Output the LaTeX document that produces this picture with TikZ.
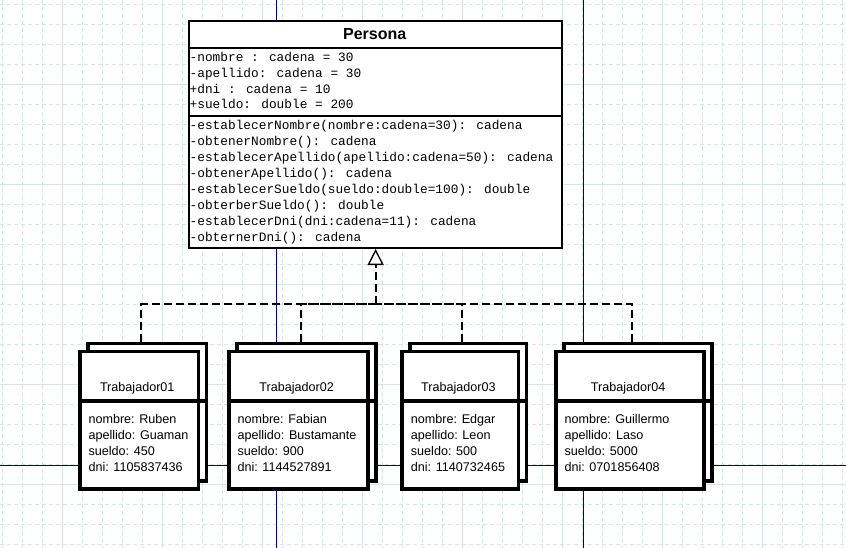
\documentclass[tikz,border=0pt]{standalone}
\usepackage{fontspec}
\setmainfont{Liberation Sans}
\newfontfamily\monofnt{Liberation Mono}
\usetikzlibrary{arrows.meta}
\definecolor{gridc}{RGB}{214,230,226}
\definecolor{navyline}{RGB}{0,0,150}
\tikzset{
  gridminor/.style={gridc, line width=0.8pt, dash pattern=on 4pt off 3pt},
  gridmajor/.style={gridc, line width=1pt},
  guide/.style={navyline, line width=0.9pt},
  classbox/.style={draw, fill=white, line width=2pt, inner sep=0pt, anchor=north west},
  objbox/.style={draw, fill=white, line width=3.5pt, inner sep=0pt, anchor=north west, minimum height=137.5pt},
  sepline/.style={line width=3.5pt},
  classsep/.style={line width=2pt},
  monotext/.style={font=\monofnt\fontsize{12.8}{16}\selectfont, anchor=base west, inner sep=0pt},
  classtitle/.style={font=\bfseries\fontsize{16}{19}\selectfont, anchor=base, inner sep=0pt},
  objtext/.style={font=\fontsize{12.6}{15}\selectfont, anchor=base west, inner sep=0pt},
  objtitle/.style={font=\fontsize{12.6}{15}\selectfont, anchor=base, inner sep=0pt},
  genline/.style={line width=2.2pt, dash pattern=on 8pt off 4pt},
  gen/.style={genline, -{Triangle[open, length=16pt, width=16pt, line width=1.3pt]}}
}
\begin{document}
\begin{tikzpicture}[x=1pt, y=-1pt]
\useasboundingbox[fill=white] (0,0) rectangle (846,548);
% grid
\foreach \x in {2,22,...,842} \draw[gridminor] (\x,0) -- (\x,548);
\foreach \y in {4.5,24.5,...,544.5} \draw[gridminor] (0,\y) -- (846,\y);
\foreach \x in {62,162,...,762} \draw[gridmajor] (\x,0) -- (\x,548);
\foreach \y in {84.5,184.5,...,484.5} \draw[gridmajor] (0,\y) -- (846,\y);
% guide lines
\draw[guide] (276,0) -- (276,548);
\draw[guide] (583,0) -- (583,548);
\draw[guide] (0,465) -- (846,465);

% Persona class
\node[classbox, minimum width=372.7pt, minimum height=227pt] (persona) at (188.3,20) {};
\draw[classsep] (188.3,47.7) -- (561,47.7);
\draw[classsep] (188.3,115.7) -- (561,115.7);
\node[classtitle] (ptitle) at (374.65,40) {Persona};
\node[monotext] (a1) at (189.5,61.7) {-nombre : cadena = 30};
\node[monotext] (a2) at (189.5,77.4) {-apellido: cadena = 30};
\node[monotext] (a3) at (189.5,93.1) {+dni : cadena = 10};
\node[monotext] (a4) at (189.5,108.8) {+sueldo: double = 200};
\node[monotext] (m1) at (189.5,129.3) {-establecerNombre(nombre:cadena=30): cadena};
\node[monotext] (m2) at (189.5,145.3) {-obtenerNombre(): cadena};
\node[monotext] (m3) at (189.5,161.3) {-establecerApellido(apellido:cadena=50): cadena};
\node[monotext] (m4) at (189.5,177.3) {-obtenerApellido(): cadena};
\node[monotext] (m5) at (189.5,193.3) {-establecerSueldo(sueldo:double=100): double};
\node[monotext] (m6) at (189.5,209.3) {-obterberSueldo(): double};
\node[monotext] (m7) at (189.5,225.3) {-establecerDni(dni:cadena=11): cadena};
\node[monotext] (m8) at (189.5,241.3) {-obternerDni(): cadena};

% connectors
\coordinate (j) at ([yshift=-55pt]persona.south);
\coordinate (c1) at (141.25,341.5);
\coordinate (c2) at (300.65,341.5);
\coordinate (c3) at (462.35,341.5);
\coordinate (c4) at (632.15,341.5);
\draw[genline] (c1) -- (c1 |- j) -- (j);
\draw[genline] (c2) -- (c2 |- j) -- (j);
\draw[genline] (c3) -- (c3 |- j) -- (j);
\draw[genline] (c4) -- (c4 |- j) -- (j);
\draw[gen] (j) -- (persona.south);

% Trabajador01
\node[objbox, minimum width=118.5pt] (w1b) at (86,341.5) {};
\node[objbox, minimum width=118.5pt] (w1) at (78,349.5) {};
\draw[sepline] (78,401) -- (204.5,401);
\node[objtitle] (w1t) at (137.25,391.5) {Trabajador01};
\node[objtext] (w1a) at (88.3,423.8) {nombre: Ruben};
\node[objtext] (w1c) at (88.3,439.6) {apellido: Guaman};
\node[objtext] (w1d) at (88.3,455.4) {sueldo: 450};
\node[objtext] (w1e) at (88.3,471.2) {dni: 1105837436};

% Trabajador02
\node[objbox, minimum width=138.7pt] (w2b) at (235.3,341.5) {};
\node[objbox, minimum width=138.7pt] (w2) at (227.3,349.5) {};
\draw[sepline] (227.3,401) -- (374,401);
\node[objtitle] (w2t) at (296.65,391.5) {Trabajador02};
\node[objtext] (w2a) at (237.3,423.8) {nombre: Fabian};
\node[objtext] (w2c) at (237.3,439.6) {apellido: Bustamante};
\node[objtext] (w2d) at (237.3,455.4) {sueldo: 900};
\node[objtext] (w2e) at (237.3,471.2) {dni: 1144527891};

% Trabajador03
\node[objbox, minimum width=116.7pt] (w3b) at (408,341.5) {};
\node[objbox, minimum width=116.7pt] (w3) at (400,349.5) {};
\draw[sepline] (400,401) -- (524.7,401);
\node[objtitle] (w3t) at (458.35,391.5) {Trabajador03};
\node[objtext] (w3a) at (410.7,423.8) {nombre: Edgar};
\node[objtext] (w3c) at (410.7,439.6) {apellido: Leon};
\node[objtext] (w3d) at (410.7,455.4) {sueldo: 500};
\node[objtext] (w3e) at (410.7,471.2) {dni: 1140732465};

% Trabajador04
\node[objbox, minimum width=148.3pt] (w4b) at (562,341.5) {};
\node[objbox, minimum width=148.3pt] (w4) at (554,349.5) {};
\draw[sepline] (554,401) -- (710.3,401);
\node[objtitle] (w4t) at (628.15,391.5) {Trabajador04};
\node[objtext] (w4a) at (564.3,423.8) {nombre: Guillermo};
\node[objtext] (w4c) at (564.3,439.6) {apellido: Laso};
\node[objtext] (w4d) at (564.3,455.4) {sueldo: 5000};
\node[objtext] (w4e) at (564.3,471.2) {dni: 0701856408};
\end{tikzpicture}
\end{document}
